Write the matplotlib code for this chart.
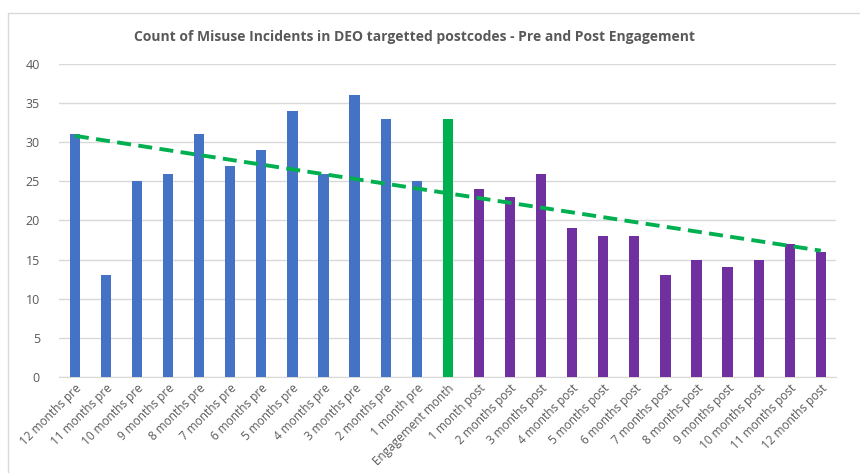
import numpy as np
import matplotlib.pyplot as plt
from matplotlib.patches import Rectangle

# monthly incident counts around the engagement month
labels = ['12 months pre', '11 months pre', '10 months pre', '9 months pre',
          '8 months pre', '7 months pre', '6 months pre', '5 months pre',
          '4 months pre', '3 months pre', '2 months pre', '1 month pre',
          'Engagement month',
          '1 month post', '2 months post', '3 months post', '4 months post',
          '5 months post', '6 months post', '7 months post', '8 months post',
          '9 months post', '10 months post', '11 months post', '12 months post']
counts = [31, 13, 25, 26, 31, 27, 29, 34, 26, 36, 33, 25,
          33,
          24, 23, 26, 19, 18, 18, 13, 15, 14, 15, 17, 16]
phase = ['pre'] * 12 + ['eng'] + ['post'] * 12

colours = {'pre': '#4472C4', 'eng': '#00B050', 'post': '#7030A0'}
grey = '#595959'

fig = plt.figure(figsize=(8.6, 4.73), dpi=100)
ax = fig.add_axes([0.069, 0.203, 0.9035, 0.6617])

x = np.arange(len(counts))
ax.bar(x, counts, width=0.33, color=[colours[p] for p in phase], zorder=3)

# linear trendline over all months
k, b = np.polyfit(x, counts, 1)
xt = np.array([0, len(counts) - 1])
ax.plot(xt, k * xt + b, color='#00B050', lw=2.8, ls=(0, (3.6, 1.9)), zorder=4)

ax.set_xlim(-0.5, len(counts) - 0.5)
ax.set_ylim(0, 40)
ax.set_yticks(range(0, 41, 5))
ax.yaxis.grid(True, color='#D9D9D9', lw=1, zorder=0)
for s in ['top', 'right', 'left']:
    ax.spines[s].set_visible(False)
ax.spines['bottom'].set_color('#D9D9D9')
ax.tick_params(axis='both', length=0, colors=grey, labelsize=9)
ax.tick_params(axis='y', pad=14)
ax.set_xticks(x)
ax.set_xticklabels(labels, rotation=45, ha='right', rotation_mode='anchor',
                   family='Open Sans', fontsize=8.5)
for t in ax.get_yticklabels():
    t.set_family('Open Sans')

fig.text(0.4825, 0.921, 'Count of Misuse Incidents in DEO targetted postcodes - Pre and Post Engagement',
         ha='center', va='center', color=grey, fontsize=10, fontweight='bold',
         family='Open Sans')

# chart area border
fig.patches.append(Rectangle((8 / 860, -0.1), 1.2, 1.1 - 13 / 473,
                             transform=fig.transFigure, fill=False,
                             edgecolor='#D9D9D9', lw=1))

fig.savefig('out.png', dpi=100)
